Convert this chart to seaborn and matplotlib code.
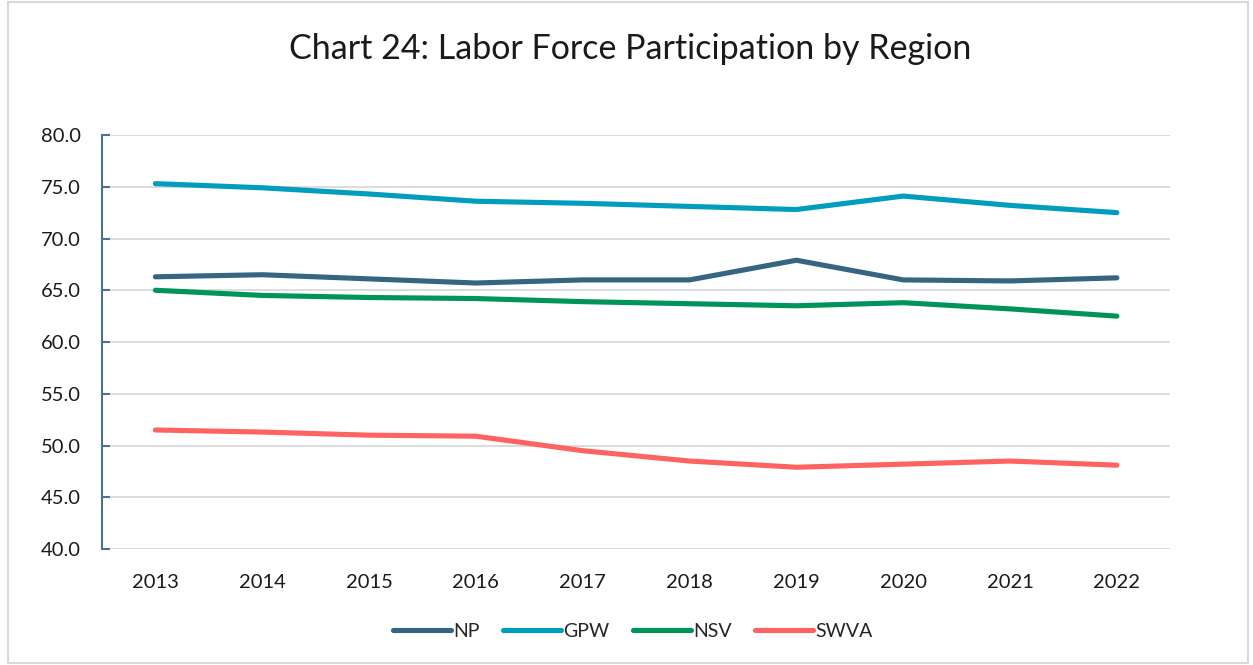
import matplotlib
matplotlib.use("Agg")
import matplotlib.pyplot as plt
import numpy as np
import pandas as pd
import seaborn as sns
from matplotlib.patches import Rectangle

# data
years = [2013, 2014, 2015, 2016, 2017, 2018, 2019, 2020, 2021, 2022]
regions = ["NP", "GPW", "NSV", "SWVA"]
np_vals = [66.3, 66.5, 66.1, 65.7, 66.0, 66.0, 67.9, 66.0, 65.9, 66.2]
gpw_vals = [75.3, 74.9, 74.3, 73.6, 73.4, 73.1, 72.8, 74.1, 73.2, 72.5]
nsv_vals = [65.0, 64.5, 64.3, 64.2, 63.9, 63.7, 63.5, 63.8, 63.2, 62.5]
swva_vals = [51.5, 51.3, 51.0, 50.9, 49.5, 48.5, 47.9, 48.2, 48.5, 48.1]
colors = ["#356580", "#009DBF", "#00935A", "#FF6361"]

df = pd.DataFrame({"Year": years * 4,
                   "Region": np.repeat(regions, len(years)),
                   "Value": np_vals + gpw_vals + nsv_vals + swva_vals})
df["x"] = df["Year"].map({y: i for i, y in enumerate(years)})

sns.set_style("white")
plt.rcParams["font.family"] = ["Lato", "DejaVu Sans"]

fig = plt.figure(figsize=(12.53, 6.65), dpi=100)
ax = fig.add_axes([0.0814, 0.1744, 0.8526, 0.6226])

sns.lineplot(data=df, x="x", y="Value", hue="Region", hue_order=regions,
             palette=colors, linewidth=3.7, ax=ax, legend=False,
             solid_capstyle="round")

ax.set_xlim(-0.5, len(years) - 0.5)
ax.set_ylim(40, 80)
ax.set_yticks(np.arange(40, 81, 5))
ax.set_yticklabels([f"{v:.1f}" for v in np.arange(40, 81, 5)])
ax.set_xticks(range(len(years)))
ax.set_xticklabels([str(y) for y in years])
ax.set_xlabel("")
ax.set_ylabel("")

ax.grid(axis="y", color="#d9d9d9", linewidth=1.3)
ax.set_axisbelow(True)
for side in ["top", "right", "bottom"]:
    ax.spines[side].set_visible(False)
ax.spines["left"].set_color("#4a7391")
ax.spines["left"].set_linewidth(1.5)
ax.tick_params(axis="y", left=True, direction="in", length=6, width=1.5, color="#4a7391",
               labelsize=14.5, pad=15, labelcolor="#1a1a1a")
ax.tick_params(axis="x", bottom=False, length=0, labelsize=14.5, pad=18, labelcolor="#1a1a1a")

handles = [plt.Line2D([], [], color=c, linewidth=3.7, solid_capstyle="round") for c in colors]
fig.legend(handles, regions, loc="center", bbox_to_anchor=(0.505, 0.05), ncol=4,
           frameon=False, fontsize=14, handlelength=3.0, handletextpad=0.1,
           columnspacing=1.2)

fig.suptitle("Chart 24: Labor Force Participation by Region", x=0.503, y=0.95,
             fontsize=24.5, color="#1a1a1a")

fig.patches.append(Rectangle((0.006, 0.003), 0.99, 0.994, transform=fig.transFigure,
                             fill=False, edgecolor="#d9d9d9", linewidth=1.5))

fig.savefig("out.png", dpi=100)
